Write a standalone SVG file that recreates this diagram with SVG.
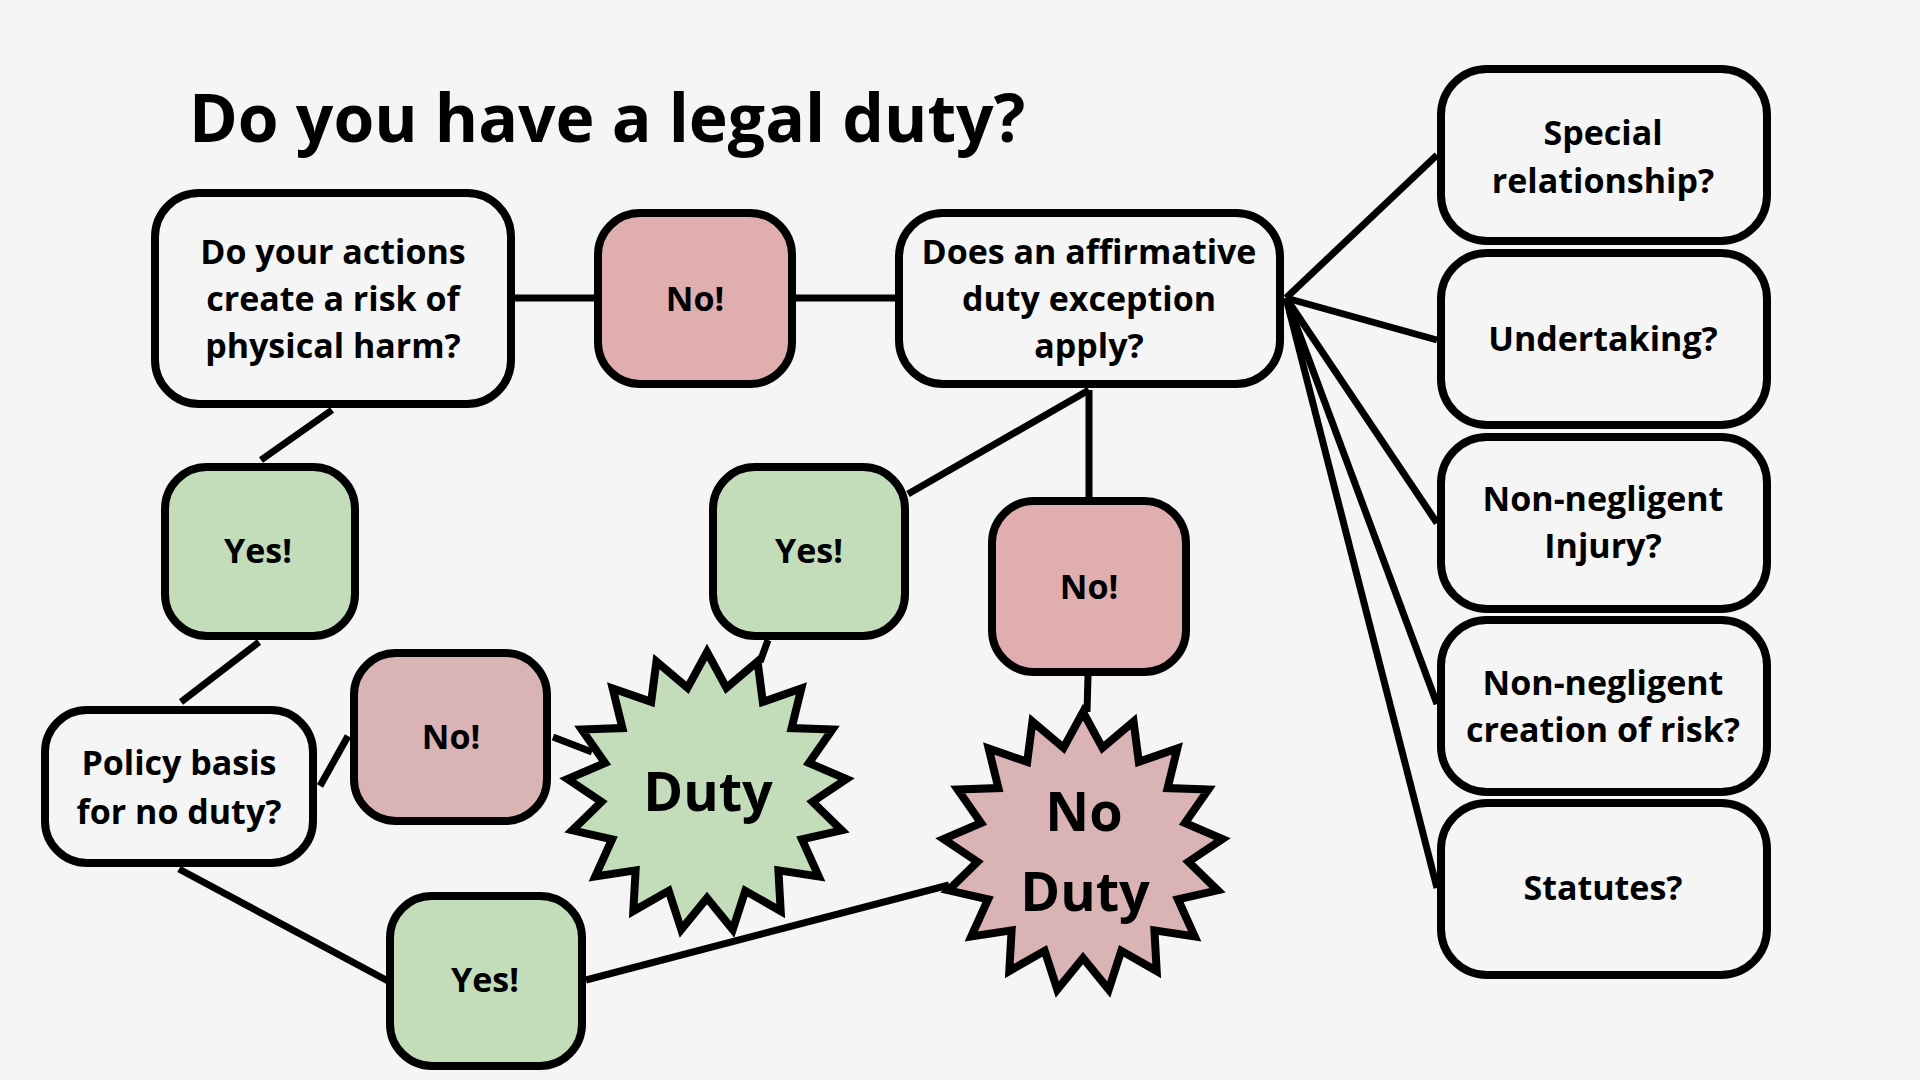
<svg xmlns="http://www.w3.org/2000/svg" xmlns:xlink="http://www.w3.org/1999/xlink" width="1920" height="1080" viewBox="0 0 1920 1080">
<style>
.bg{fill:#f5f5f5}
.box{stroke:#000;stroke-width:8}
.q{fill:#f5f5f5}
.yes{fill:#c3ddbb}
.no{fill:#e0aeae}
.no2{fill:#dab3b5}
.conn line{stroke:#000;stroke-width:7;stroke-linecap:butt}
.star{stroke:#000;stroke-width:8;stroke-linejoin:miter;stroke-miterlimit:10}
text{font-family:"Open Sans","Noto Sans","Liberation Sans",sans-serif;fill:#000;text-anchor:middle}
.t{font-size:34px;font-weight:700}
.title{font-size:66px;font-weight:700;text-anchor:start}
.big{font-size:54px;font-weight:700}
</style>
<defs>
<polygon id="star17" points="0,-140 19.48,-104.19 50.57,-130.55 55.80,-90.12 94.32,-103.46 84.59,-63.88 125.32,-62.40 101.95,-29.01 139.40,-12.92 105.55,9.78 134.66,38.31 94.89,47.25 111.72,84.37 71.41,78.34 73.70,119.03 38.29,98.84 25.73,137.62 0,106 -25.73,137.62 -38.29,98.84 -73.70,119.03 -71.41,78.34 -111.72,84.37 -94.89,47.25 -134.66,38.31 -105.55,9.78 -139.40,-12.92 -101.95,-29.01 -125.32,-62.40 -84.59,-63.88 -94.32,-103.46 -55.80,-90.12 -50.57,-130.55 -19.48,-104.19"/>
</defs>
<rect class="bg" x="0" y="0" width="1920" height="1080"/>
<text class="title" x="189" y="142">Do you have a legal duty?</text>
<g class="conn" id="connectors">
<line x1="515" y1="298" x2="594" y2="298"/>
<line x1="796" y1="298" x2="895" y2="298"/>
<line x1="332" y1="410" x2="261" y2="460"/>
<line x1="259" y1="642" x2="181" y2="702"/>
<line x1="320" y1="786" x2="348" y2="736"/>
<line x1="553" y1="737" x2="592" y2="752"/>
<line x1="768" y1="640" x2="760" y2="662"/>
<line x1="1089" y1="390" x2="908" y2="494"/>
<line x1="1089" y1="390" x2="1089" y2="499"/>
<line x1="1088" y1="676" x2="1087" y2="712"/>
<line x1="179" y1="869" x2="388" y2="981"/>
<line x1="586" y1="980" x2="949" y2="885"/>
<line x1="1286" y1="298" x2="1437" y2="155"/>
<line x1="1286" y1="298" x2="1437" y2="340"/>
<line x1="1286" y1="298" x2="1437" y2="523"/>
<line x1="1286" y1="298" x2="1437" y2="704"/>
<line x1="1286" y1="298" x2="1437" y2="888"/>
</g>
<g id="q-actions"><rect class="box q" x="155" y="193" width="356" height="211" rx="44"/>
<text class="t" x="333" y="264">Do your actions</text><text class="t" x="333" y="311">create a risk of</text><text class="t" x="333" y="358">physical harm?</text></g>
<g id="no-top"><rect class="box no" x="598" y="213" width="194" height="171" rx="42"/><text class="t" x="695" y="311">No!</text></g>
<g id="q-affirmative"><rect class="box q" x="899" y="213" width="381" height="171" rx="44"/>
<text class="t" x="1089" y="264">Does an affirmative</text><text class="t" x="1089" y="311">duty exception</text><text class="t" x="1089" y="358">apply?</text></g>
<g id="special"><rect class="box q" x="1441" y="69" width="326" height="172" rx="46"/><text class="t" x="1603" y="145">Special</text><text class="t" x="1603" y="193">relationship?</text></g>
<g id="undertaking"><rect class="box q" x="1441" y="253" width="326" height="172" rx="46"/><text class="t" x="1603" y="351">Undertaking?</text></g>
<g id="injury"><rect class="box q" x="1441" y="437" width="326" height="172" rx="46"/><text class="t" x="1603" y="511">Non-negligent</text><text class="t" x="1603" y="558">Injury?</text></g>
<g id="creation"><rect class="box q" x="1441" y="620" width="326" height="172" rx="46"/><text class="t" x="1603" y="695">Non-negligent</text><text class="t" x="1603" y="742">creation of risk?</text></g>
<g id="statutes"><rect class="box q" x="1441" y="803" width="326" height="172" rx="46"/><text class="t" x="1603" y="900">Statutes?</text></g>
<g id="yes-left"><rect class="box yes" x="165" y="467" width="190" height="169" rx="42"/><text class="t" x="258" y="563">Yes!</text></g>
<g id="q-policy"><rect class="box q" x="45" y="710" width="268" height="153" rx="42"/><text class="t" x="179" y="775">Policy basis</text><text class="t" x="179" y="824">for no duty?</text></g>
<g id="no-mid"><rect class="box no2" x="354" y="653" width="193" height="168" rx="42"/><text class="t" x="451" y="749">No!</text></g>
<g id="yes-mid"><rect class="box yes" x="713" y="467" width="192" height="169" rx="42"/><text class="t" x="809" y="563">Yes!</text></g>
<g id="no-right"><rect class="box no" x="992" y="501" width="194" height="171" rx="42"/><text class="t" x="1089" y="599">No!</text></g>
<g id="yes-bottom"><rect class="box yes" x="390" y="896" width="192" height="170" rx="42"/><text class="t" x="485" y="992">Yes!</text></g>
<g id="duty"><use xlink:href="#star17" href="#star17" class="star" fill="#c3ddbb" transform="translate(707,792)"/><text class="big" x="708" y="811">Duty</text></g>
<g id="no-duty"><use xlink:href="#star17" href="#star17" class="star" fill="#dab3b5" transform="translate(1083,852)"/><text class="big" x="1084" y="831">No</text><text class="big" x="1085" y="911">Duty</text></g>
</svg>
